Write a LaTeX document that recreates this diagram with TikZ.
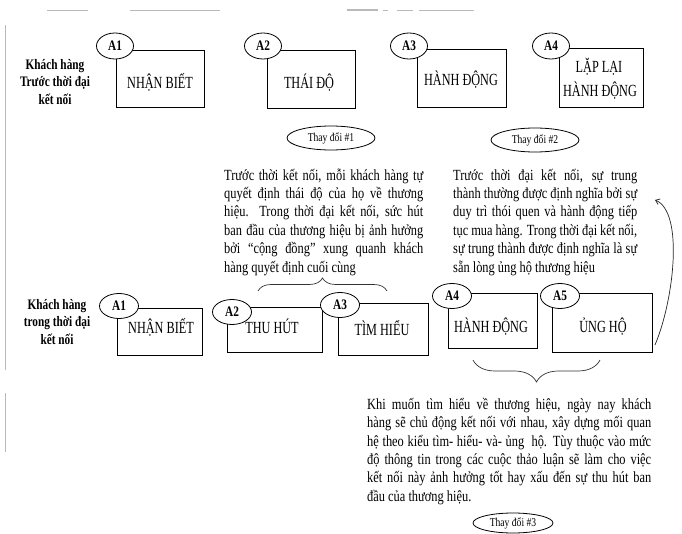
\documentclass[tikz,border=0pt]{standalone}
\usepackage{fontspec}
\setmainfont{Liberation Serif}
\newfontfamily\boxfont[FakeStretch=0.72]{Liberation Serif}
\newfontfamily\parfont[FakeStretch=0.8]{Liberation Serif}
\newfontfamily\lblfont[FakeStretch=0.78]{Liberation Serif}
\usetikzlibrary{shapes.geometric,decorations.pathreplacing,arrows.meta}
\hyphenpenalty=10000
\exhyphenpenalty=10000
\tolerance=10000
\begin{document}
\begin{tikzpicture}[x=1pt,y=-1pt,
  boxn/.style={draw, line width=0.9pt, inner sep=0},
  aell/.style={ellipse, draw, fill=white, line width=0.8pt, inner sep=0,
    minimum width=37pt, minimum height=26pt,
    font=\lblfont\bfseries\fontsize{14.5}{16}\selectfont},
  chg/.style={ellipse, draw, line width=0.8pt, inner sep=0,
    minimum width=88pt, minimum height=24pt,
    font=\parfont\fontsize{12}{14}\selectfont},
  lbl/.style={anchor=base, inner sep=0, font=\boxfont\fontsize{17}{20}\selectfont},
  rowl/.style={align=center, inner sep=0,
    font=\lblfont\bfseries\fontsize{14.5}{17.5}\selectfont},
  para/.style={anchor=north west, inner sep=0, align=justify,
    font=\parfont\fontsize{15.5}{18.4}\selectfont},
  scan/.style={draw=gray!55, line width=0.8pt},
  brc/.style={decorate, line width=0.7pt, draw=black!80}
]
\useasboundingbox (0,0) rectangle (682,534);

% scan marks
\draw[scan] (47,10) -- (88,10);
\draw[scan] (130,10) -- (220,10);
\draw[scan, line width=1.3pt] (347,10) -- (378,10);
\draw[scan] (383,10) -- (388,10);
\draw[scan] (397,10) -- (413,10);
\draw[scan] (419,10) -- (474,10);
\draw[scan] (5,25) -- (5,370);
\draw[scan] (5,393) -- (5,452);

% ---------- top row ----------
\node[rowl] (rowtop) at (55,82) {Khách hàng\\Trước thời đại\\kết nối};

\node[boxn, minimum width=88pt, minimum height=57pt] (b1) at (160,78.5) {};
\node[boxn, minimum width=88pt, minimum height=58pt] (b2) at (311,79) {};
\node[boxn, minimum width=89pt, minimum height=58pt] (b3) at (461.5,78) {};
\node[boxn, minimum width=84pt, minimum height=59pt] (b4) at (601,77.5) {};

\node[aell] (ta1) at (115,46) {A1};
\node[aell] (ta2) at (263,46) {A2};
\node[aell] (ta3) at (409,46) {A3};
\node[aell] (ta4) at (551,46) {A4};

\node[lbl] (tl1) at (160,89) {NHẬN BIẾT};
\node[lbl] (tl2) at (309,89) {THÁI ĐỘ};
\node[lbl] (tl3) at (461,86) {HÀNH ĐỘNG};
\node[lbl] (tl4a) at (599,73) {LẶP LẠI};
\node[lbl] (tl4b) at (600,97) {HÀNH ĐỘNG};

% ---------- change ellipses ----------
\node[chg] (ch1) at (331,138) {Thay đổi \#1};
\node[chg] (ch2) at (535,140) {Thay đổi \#2};

% ---------- paragraphs ----------
\node[para, text width=199pt] (p1) at (224,164) {\rule{0pt}{16pt}Trước thời kết nối, mỗi khách hàng tự\linebreak
quyết định thái độ của họ về thương\linebreak
hiệu. Trong thời đại kết nối, sức hút\linebreak
ban đầu của thương hiệu bị ảnh hưởng\linebreak
bởi “cộng đồng” xung quanh khách\linebreak
hàng quyết định cuối cùng};

\node[para, text width=184pt] (p2) at (453,164) {\rule{0pt}{16pt}Trước thời đại kết nối, sự trung\linebreak
thành thường được định nghĩa bởi sự\linebreak
duy trì thói quen và hành động tiếp\linebreak
tục mua hàng. Trong thời đại kết nối,\linebreak
sự trung thành được định nghĩa là sự\linebreak
sẵn lòng ủng hộ thương hiệu};

% brace under paragraph 1
\coordinate (br1a) at (258,291);
\coordinate (br1b) at (387,291);
\draw[brc, decoration={brace, amplitude=13pt}] (br1a) -- (br1b);

% ---------- bottom row ----------
\node[rowl] (rowbot) at (57,322) {Khách hàng\\trong thời đại\\kết nối};

\node[boxn, minimum width=85pt, minimum height=47pt] (c1) at (159.5,331.5) {};
\node[boxn, minimum width=95pt, minimum height=45pt] (c2) at (274.5,329.5) {};
\node[boxn, minimum width=90pt, minimum height=52pt] (c3) at (383,329) {};
\node[boxn, minimum width=89pt, minimum height=55pt] (c4) at (492.5,320.5) {};
\node[boxn, minimum width=100pt, minimum height=59pt] (c5) at (602,322.5) {};

\node[aell, minimum width=39pt, minimum height=25pt] (ba1) at (119,306) {A1};
\node[aell, minimum width=39pt, minimum height=25pt] (ba2) at (232,312) {A2};
\node[aell, minimum width=39pt, minimum height=25pt] (ba3) at (340,305) {A3};
\node[aell, minimum width=39pt, minimum height=25pt] (ba4) at (452,296) {A4};
\node[aell, minimum width=39pt, minimum height=25pt] (ba5) at (560,296) {A5};

\node[lbl] (bl1) at (161,334) {NHẬN BIẾT};
\node[lbl] (bl2) at (272,333) {THU HÚT};
\node[lbl] (bl3) at (382,335) {TÌM HIỂU};
\node[lbl] (bl4) at (491,332) {HÀNH ĐỘNG};
\node[lbl] (bl5) at (603,332) {ỦNG HỘ};

% curved arrow from A5 box back to paragraph 2
\coordinate (arS) at (655,345);
\coordinate (arE) at (655,200);
\draw[line width=0.7pt, draw=black!85, -{Straight Barb[length=4pt,width=6pt]}]
  (arS) .. controls (674,300) and (684,212) .. (arE);

% brace under A4-A5
\coordinate (br2a) at (600,360);
\coordinate (br2b) at (473,360);
\draw[brc, decoration={brace, amplitude=22pt}] (br2a) -- (br2b);

\node[para, text width=284pt] (p3) at (367,393) {\rule{0pt}{16pt}Khi muốn tìm hiểu về thương hiệu, ngày nay khách\linebreak
hàng sẽ chủ động kết nối với nhau, xây dựng mối quan\linebreak
hệ theo kiểu tìm- hiểu- và- ủng \ hộ. Tùy thuộc vào mức\linebreak
độ thông tin trong các cuộc thảo luận sẽ làm cho việc\linebreak
kết nối này ảnh hưởng tốt hay xấu đến sự thu hút ban\linebreak
đầu của thương hiệu.};

\node[chg, minimum width=80pt, minimum height=20pt] (ch3) at (513,523) {Thay đổi \#3};
\end{tikzpicture}
\end{document}
